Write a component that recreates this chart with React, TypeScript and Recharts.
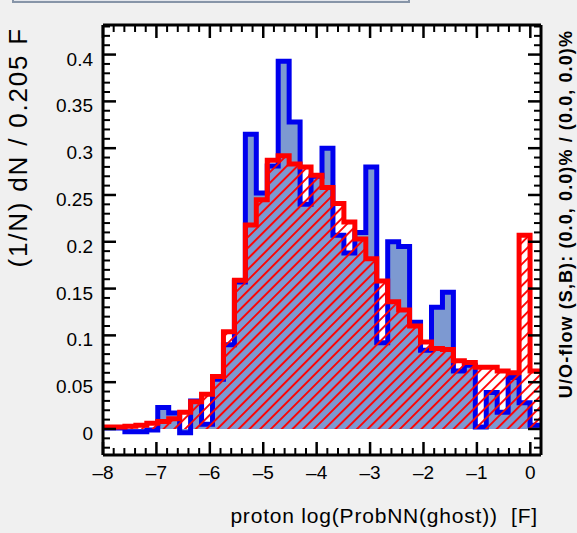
import React from 'react';
import { ComposedChart, Area, XAxis, YAxis, CartesianGrid } from 'recharts';

// Histogram binning: 40 bins of width 0.205 starting at -8
const X_MIN = -8;
const BIN_WIDTH = 0.205;

// Normalised signal distribution (1/N dN per bin)
const signal = [
  0.001, 0.001, -0.003, -0.003, -0.001, 0.023, 0.017, -0.004, 0.030, 0.005,
  0.053, 0.090, 0.157, 0.315, 0.252, 0.281, 0.393, 0.328, 0.240, 0.270,
  0.300, 0.207, 0.188, 0.210, 0.280, 0.092, 0.200, 0.195, 0.114, 0.084,
  0.130, 0.146, 0.062, 0.068, 0.002, 0.039, 0.018, 0.055, 0.028, 0.004,
];

// Normalised background distribution (1/N dN per bin)
const background = [
  0.002, 0.002, 0.003, 0.004, 0.006, 0.008, 0.011, 0.018, 0.029, 0.037,
  0.056, 0.104, 0.159, 0.218, 0.245, 0.287, 0.292, 0.283, 0.280, 0.271,
  0.258, 0.241, 0.221, 0.203, 0.182, 0.158, 0.136, 0.127, 0.110, 0.093,
  0.086, 0.085, 0.073, 0.071, 0.066, 0.066, 0.062, 0.060, 0.207, 0.062,
];

const xMajorTicks = [-8, -7, -6, -5, -4, -3, -2, -1, 0];
const xTickLabels = ['\u20138', '\u20137', '\u20136', '\u20135', '\u20134', '\u20133', '\u20132', '\u20131', '0'];
const yMajorTicks = [0, 0.05, 0.1, 0.15, 0.2, 0.25, 0.3, 0.35, 0.4];
const yTickLabels = ['0', '0.05', '0.1', '0.15', '0.2', '0.25', '0.3', '0.35', '0.4'];

const X_DOMAIN: [number, number] = [-8, 0.2];
const Y_DOMAIN: [number, number] = [-0.0278, 0.4316];

// Step-curve rows: one point per bin left edge plus the closing right edge
const rows = signal.map((s, i) => ({
  x: Math.round((X_MIN + i * BIN_WIDTH) * 1000) / 1000,
  s,
  b: background[i],
}));
rows.push({
  x: Math.round((X_MIN + signal.length * BIN_WIDTH) * 1000) / 1000,
  s: signal[signal.length - 1],
  b: background[background.length - 1],
});

// Minor ticks every 0.2 on x and every 0.01 on y
const xMinorTicks = Array.from({ length: 42 }, (_, k) => Math.round((-8 + 0.2 * k) * 1000) / 1000);
const yMinorTicks = Array.from({ length: 46 }, (_, k) => Math.round(-2 + k) / 100);

const FONT = '"Liberation Sans", Arial, Helvetica, sans-serif';
const MAJOR = 13;
const MINOR = 7;

const majorIndex = (list: number[], v: number) => list.findIndex((t) => Math.abs(t - v) < 1e-6);

const BottomTick = (props: any) => {
  const { x, y, payload } = props;
  const idx = majorIndex(xMajorTicks, payload.value);
  const len = idx >= 0 ? MAJOR : MINOR;
  return (
    <g>
      <line x1={x} y1={y} x2={x} y2={y - len} stroke="#000" strokeWidth={idx >= 0 ? 2.5 : 2} />
      {idx >= 0 && (
        <text x={x} y={y + 24} textAnchor="middle" fontSize={19} fontFamily={FONT} fill="#000">
          {xTickLabels[idx]}
        </text>
      )}
    </g>
  );
};

const TopTick = (props: any) => {
  const { x, y, payload } = props;
  const idx = majorIndex(xMajorTicks, payload.value);
  const len = idx >= 0 ? MAJOR : MINOR;
  return <line x1={x} y1={y} x2={x} y2={y + len} stroke="#000" strokeWidth={idx >= 0 ? 2.5 : 2} />;
};

const LeftTick = (props: any) => {
  const { x, y, payload } = props;
  const idx = majorIndex(yMajorTicks, payload.value);
  const len = idx >= 0 ? MAJOR : MINOR;
  return (
    <g>
      <line x1={x} y1={y} x2={x + len} y2={y} stroke="#000" strokeWidth={idx >= 0 ? 2.5 : 2} />
      {idx >= 0 && (
        <text x={x - 10} y={y + 11} textAnchor="end" fontSize={19} fontFamily={FONT} fill="#000">
          {yTickLabels[idx]}
        </text>
      )}
    </g>
  );
};

const RightTick = (props: any) => {
  const { x, y, payload } = props;
  const idx = majorIndex(yMajorTicks, payload.value);
  const len = idx >= 0 ? MAJOR : MINOR;
  return <line x1={x} y1={y} x2={x - len} y2={y} stroke="#000" strokeWidth={idx >= 0 ? 2.5 : 2} />;
};

const frame = { stroke: '#000', strokeWidth: 3 };

export default function App() {
  return (
    <div
      style={{
        position: 'absolute',
        left: 0,
        top: 0,
        width: 577,
        height: 533,
        background: '#f0f0f0',
        overflow: 'hidden',
      }}
    >
      <div
        style={{
          position: 'absolute',
          left: 12,
          top: -12,
          width: 394,
          height: 11,
          background: '#e4e7ed',
          border: '2px solid #8795a8',
        }}
      />
      <ComposedChart
        width={577}
        height={533}
        data={rows}
        margin={{ top: 24, right: 35, bottom: 77, left: 102 }}
      >
        <defs>
          <pattern id="bkgHatch" patternUnits="userSpaceOnUse" width={7.6} height={7.6} patternTransform="rotate(45)">
            <line x1={1} y1={0} x2={1} y2={7.6} stroke="#ff0000" strokeWidth={1.9} />
          </pattern>
        </defs>
        <CartesianGrid fill="#ffffff" stroke="none" horizontal={false} vertical={false} />
        <XAxis
          dataKey="x"
          type="number"
          domain={X_DOMAIN}
          allowDataOverflow
          ticks={xMinorTicks}
          interval={0}
          height={1}
          tickSize={0}
          tickMargin={0}
          tickLine={false}
          axisLine={frame}
          tick={BottomTick}
        />
        <XAxis
          xAxisId="top"
          orientation="top"
          dataKey="x"
          type="number"
          domain={X_DOMAIN}
          allowDataOverflow
          ticks={xMinorTicks}
          interval={0}
          height={1}
          tickSize={0}
          tickMargin={0}
          tickLine={false}
          axisLine={frame}
          tick={TopTick}
        />
        <YAxis
          type="number"
          domain={Y_DOMAIN}
          allowDataOverflow
          ticks={yMinorTicks}
          interval={0}
          width={1}
          tickSize={0}
          tickMargin={0}
          tickLine={false}
          axisLine={frame}
          tick={LeftTick}
        />
        <YAxis
          yAxisId="right"
          orientation="right"
          type="number"
          domain={Y_DOMAIN}
          allowDataOverflow
          ticks={yMinorTicks}
          interval={0}
          width={1}
          tickSize={0}
          tickMargin={0}
          tickLine={false}
          axisLine={frame}
          tick={RightTick}
        />
        <Area
          dataKey="s"
          type="stepAfter"
          baseValue={0}
          stroke="#0000ee"
          strokeWidth={5}
          fill="#7d99d1"
          fillOpacity={1}
          isAnimationActive={false}
          dot={false}
          activeDot={false}
        />
        <Area
          dataKey="b"
          type="stepAfter"
          baseValue={0}
          stroke="#ff0000"
          strokeWidth={5}
          fill="url(#bkgHatch)"
          fillOpacity={1}
          isAnimationActive={false}
          dot={false}
          activeDot={false}
        />
        <text
          x={27}
          y={27}
          transform="rotate(-90 27 27)"
          textAnchor="end"
          fontSize={26}
          letterSpacing={1.8}
          fontFamily={FONT}
          fill="#000"
        >
          (1/N) dN / 0.205 F
        </text>
        <text
          x={538}
          y={523}
          textAnchor="end"
          fontSize={21}
          letterSpacing={0.8}
          fontFamily={FONT}
          fill="#000"
        >
          {'proton log(ProbNN(ghost))\u00a0\u00a0[F]'}
        </text>
        <text
          x={572}
          y={30}
          transform="rotate(-90 572 30)"
          textAnchor="end"
          fontSize={18}
          letterSpacing={1.1}
          fontWeight="bold"
          fontFamily={FONT}
          fill="#000"
        >
          U/O-flow (S,B): (0.0, 0.0)% / (0.0, 0.0)%
        </text>
      </ComposedChart>
    </div>
  );
}
